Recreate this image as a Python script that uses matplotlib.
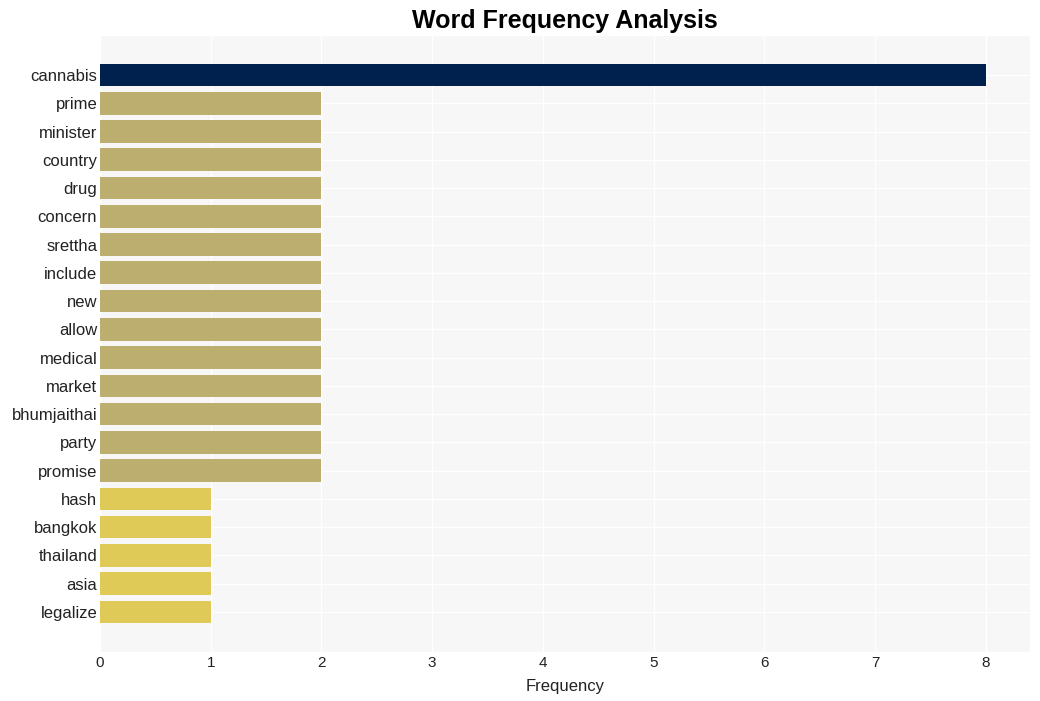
import matplotlib
matplotlib.use("Agg")
import matplotlib.pyplot as plt

plt.rcParams['font.family'] = ['Liberation Sans', 'DejaVu Sans']

words = ['cannabis', 'prime', 'minister', 'country', 'drug', 'concern', 'srettha',
         'include', 'new', 'allow', 'medical', 'market', 'bhumjaithai', 'party',
         'promise', 'hash', 'bangkok', 'thailand', 'asia', 'legalize']
counts = [8, 2, 2, 2, 2, 2, 2, 2, 2, 2, 2, 2, 2, 2, 2, 1, 1, 1, 1, 1]

def bar_color(c):
    if c == max(counts):
        return '#00214d'
    if c >= 2:
        return '#bcae6f'
    return '#dfc957'

colors = [bar_color(c) for c in counts]

fig = plt.figure(figsize=(10.4, 7.01), dpi=100)
ax = fig.add_axes([100 / 1040, 1 - 652 / 701, 930 / 1040, 616 / 701])
ax.set_facecolor('#f7f7f7')

pos = list(range(len(words)))
ax.barh(pos, counts, height=0.8, color=colors, zorder=3)

ax.set_yticks(pos)
ax.set_yticklabels(words, fontsize=12, color='#222222')
ax.set_ylim(20.42, -1.38)
ax.set_xlim(0, 8.4)
ax.set_xticks(range(9))
ax.tick_params(axis='x', labelsize=11, length=0, pad=3, labelcolor='#222222')
ax.tick_params(axis='y', length=0, pad=2)

ax.grid(True, color='white', linewidth=1, zorder=0)
ax.set_axisbelow(True)
for s in ax.spines.values():
    s.set_visible(False)

ax.set_xlabel('Frequency', fontsize=12, color='#222222', labelpad=6)
ax.set_title('Word Frequency Analysis', fontsize=18, fontweight='bold', pad=6)

fig.savefig('out.png', dpi=100)
